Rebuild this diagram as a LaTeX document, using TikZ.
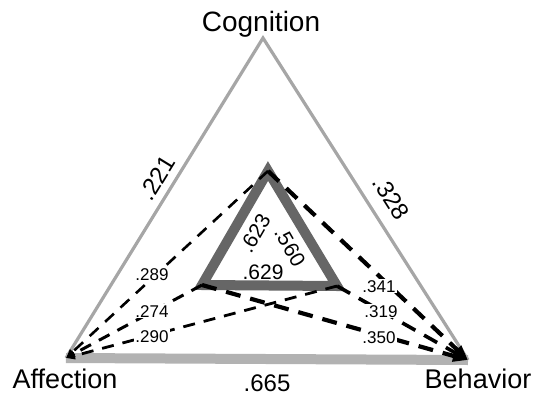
\documentclass[tikz,border=0pt]{standalone}
\usepackage{fontspec}
\setmainfont{Liberation Sans}
\usetikzlibrary{arrows.meta,positioning,calc}
\definecolor{outergray}{HTML}{A6A6A6}
\definecolor{bandgray}{HTML}{B2B2B2}
\definecolor{innergray}{HTML}{666666}
\tikzset{
  vertexlabel/.style={font=\fontsize{27}{29}\selectfont,inner sep=0pt,anchor=base},
  pathlabel/.style={font=\fontsize{17}{19}\selectfont,inner sep=1pt,fill=white,anchor=base},
  weight/.style={font=\fontsize{24}{26}\selectfont,inner sep=0pt},
  innerweight/.style={font=\fontsize{21}{23}\selectfont,inner sep=0pt},
  outerside/.style={draw=outergray,line width=3.2pt},
  innerside/.style={draw=innergray,line width=10pt,line join=miter},
  toaffect/.style={-{Triangle[length=9pt,width=7pt]},line width=#1,dash pattern=on 12pt off 9pt},
  tobehav/.style={-{Triangle[length=15pt,width=11pt]},line width=#1,dash pattern=on 15pt off 10pt},
}
\begin{document}
\begin{tikzpicture}[x=1pt,y=-1pt]
  \useasboundingbox (0,0) rectangle (534,396);
  % corners of the outer and inner triangles
  \coordinate (cog) at (263,38);
  \coordinate (aff) at (66,358);
  \coordinate (beh) at (468,360);
  \coordinate (icog) at (268,171);
  \coordinate (iaff) at (202,285);
  \coordinate (ibeh) at (337,286);

  \draw[outerside] (aff) -- (cog) -- (beh);
  \draw[draw=bandgray,line width=10pt] (aff) -- (beh);
  \draw[innerside] (icog) -- (iaff) -- (ibeh) -- cycle;

  % paths into Affection
  \draw[toaffect=2.6pt] (icog) -- (aff);
  \draw[toaffect=3pt] (iaff) -- (aff);
  \draw[toaffect=2.8pt] (ibeh) -- (aff);
  % paths into Behavior
  \draw[tobehav=4.2pt] (icog) -- (beh);
  \draw[tobehav=3.6pt] (ibeh) -- (beh);
  \draw[tobehav=4.2pt] (iaff) -- (beh);

  \node[vertexlabel,font=\fontsize{28}{30}\selectfont] (cogname) at (261,32) {Cognition};
  \node[vertexlabel] (affname) at (65,388) {Affection};
  \node[vertexlabel] (behname) at (478,388) {Behavior};

  \node[weight,anchor=base] (wab) at (267,391) {.665};
  \node[weight,rotate=58.5] (wac) at (157,178) {.221};
  \node[weight,rotate=-57.5] (wbc) at (391,198) {.328};

  \node[innerweight,rotate=60] (iwac) at (255,233) {.623};
  \node[innerweight,rotate=-60] (iwbc) at (290,247) {.560};
  \node[innerweight,anchor=base] (iwab) at (263,279) {.629};

  \node[pathlabel] (lca) at (152,280) {.289};
  \node[pathlabel] (laa) at (152,317) {.274};
  \node[pathlabel] (lba) at (152,342) {.290};
  \node[pathlabel] (lcb) at (379,292) {.341};
  \node[pathlabel] (lbb) at (381,317) {.319};
  \node[pathlabel] (lab) at (379,343) {.350};
\end{tikzpicture}
\end{document}
